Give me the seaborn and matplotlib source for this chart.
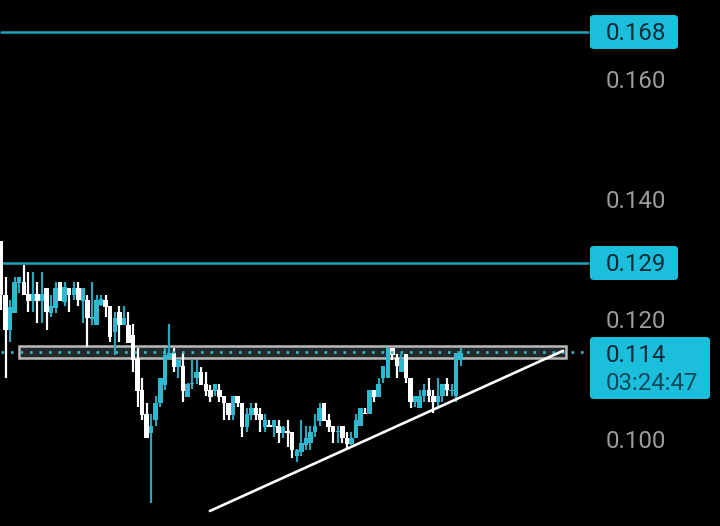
"""Candlestick screenshot recreated with seaborn: dark theme, price levels, trend line."""

import matplotlib
matplotlib.use("Agg")
import matplotlib.pyplot as plt
from matplotlib.patches import FancyBboxPatch, Rectangle
import pandas as pd
import seaborn as sns

opens = [
    .1330, .1240, .1182, .1210, .1260, .1262, .1242, .1230, .1242, .1230, .1252, .1210, .1218, .1262, .1228, .1252, .1240,
    .1252, .1230, .1232, .1200, .1190, .1223, .1232, .1222, .1178, .1212, .1190, .1190, .1173, .1133, .1082, .1042, .1010,
    .1032, .1060, .1090, .1133, .1143, .1120, .1122, .1070, .1092, .1102, .1112, .1092, .1082, .1080, .1082, .1072, .1060,
    .1040, .1072, .1060, .1020, .1040, .1052, .1042, .1020, .1023, .1020, .1022, .1010, .1013, .1012, .0972, .0978, .0990,
    .0993, .1012, .1030, .1060, .1032, .1022, .1012, .1022, .1002, .0992, .1002, .1022, .1043, .1042, .1082, .1070, .1102,
    .1102, .1152, .1135, .1112, .1142, .1102, .1062, .1052, .1072, .1082, .1072, .1062, .1072, .1092, .1080, .1072, .1132,
]
highs = [
    .1330, .1270, .1232, .1270, .1270, .1290, .1278, .1278, .1262, .1278, .1252, .1240, .1262, .1262, .1262, .1252, .1262,
    .1262, .1252, .1240, .1262, .1240, .1240, .1240, .1222, .1212, .1222, .1222, .1212, .1192, .1152, .1102, .1060, .1042,
    .1072, .1102, .1152, .1192, .1152, .1133, .1143, .1093, .1132, .1132, .1120, .1112, .1090, .1092, .1092, .1072, .1060,
    .1072, .1072, .1060, .1052, .1060, .1060, .1052, .1042, .1032, .1032, .1032, .1022, .1032, .1012, .0983, .1032, .1022,
    .1022, .1042, .1060, .1060, .1042, .1022, .1022, .1022, .1012, .1012, .1042, .1052, .1052, .1082, .1082, .1102, .1122,
    .1152, .1152, .1142, .1142, .1142, .1102, .1072, .1082, .1092, .1102, .1082, .1102, .1092, .1102, .1092, .1143, .1152,
]
lows = [
    .1215, .1102, .1162, .1210, .1243, .1240, .1212, .1212, .1193, .1193, .1182, .1203, .1210, .1230, .1222, .1212, .1232,
    .1222, .1193, .1153, .1190, .1190, .1222, .1203, .1162, .1140, .1162, .1190, .1160, .1112, .1053, .1032, .1002, .0893,
    .1022, .1053, .1082, .1133, .1112, .1102, .1062, .1070, .1083, .1092, .1090, .1072, .1062, .1072, .1062, .1032, .1032,
    .1032, .1053, .1003, .1012, .1032, .1032, .1012, .1012, .1020, .1003, .0993, .1002, .0987, .0968, .0962, .0972, .0982,
    .0982, .1003, .1022, .1030, .1012, .0993, .0993, .0993, .0983, .0990, .1002, .1022, .1042, .1042, .1062, .1070, .1093,
    .1102, .1132, .1102, .1112, .1093, .1052, .1053, .1052, .1062, .1062, .1043, .1053, .1062, .1072, .1072, .1062, .1122,
]
closes = [
    .1240, .1182, .1220, .1262, .1270, .1240, .1230, .1242, .1230, .1242, .1212, .1222, .1252, .1230, .1253, .1240, .1252,
    .1232, .1252, .1202, .1203, .1232, .1233, .1220, .1170, .1202, .1190, .1202, .1160, .1132, .1080, .1040, .1002, .1022,
    .1060, .1102, .1140, .1143, .1120, .1132, .1080, .1092, .1093, .1112, .1090, .1080, .1070, .1092, .1070, .1060, .1040,
    .1072, .1060, .1020, .1042, .1052, .1040, .1032, .1032, .1020, .1032, .1010, .1020, .1010, .0982, .0982, .0993, .1002,
    .1012, .1022, .1052, .1030, .1020, .1012, .1013, .1002, .0992, .1002, .1032, .1052, .1042, .1082, .1070, .1092, .1122,
    .1152, .1140, .1122, .1132, .1102, .1062, .1072, .1072, .1082, .1072, .1062, .1072, .1092, .1082, .1082, .1143, .1143,
]

level_prices = [0.1678, 0.1293]
level_labels = ["0.168", "0.129"]
tick_prices = [0.160, 0.140, 0.120, 0.100]
last_price = 0.1145
last_label = "0.114"
countdown = "03:24:47"
trend_x = [45.9, 123.5]
trend_y = [0.0880, 0.1147]
zone_x = [3.96, 124.2]
zone_y = [0.1135, 0.1155]

TEAL = "#1cbfdb"
CANDLE_TEAL = "#2fb9d0"
WICK_TEAL = "#2ba3b8"
LEVEL_TEAL = "#1ba5ba"
INK = "#0a2c3a"

sns.set_theme(style="dark", rc={"axes.facecolor": "black", "figure.facecolor": "black"})
plt.rcParams["font.family"] = ["Roboto", "DejaVu Sans"]

df = pd.DataFrame({"open": opens, "high": highs, "low": lows, "close": closes})
df["idx"] = range(len(df))
df["up"] = df["close"] >= df["open"]
df["body_low"] = df[["open", "close"]].min(axis=1)
df["body_high"] = df[["open", "close"]].max(axis=1)

fig = plt.figure(figsize=(7.2, 5.26), dpi=100)
ax = fig.add_axes([0, 0, 1, 1])
ax.set_xlim(-0.22, 158.0)
ax.set_ylim(0.0855, 0.17317)

# zone goes under the candles, levels too
ax.add_patch(Rectangle((zone_x[0], zone_y[0]), zone_x[1] - zone_x[0], zone_y[1] - zone_y[0],
                       facecolor="#23292b", edgecolor="#b9b9b9", linewidth=1.8, zorder=1))
for price in level_prices:
    sns.lineplot(x=[0, 129], y=[price, price], color=LEVEL_TEAL, linewidth=1.8, ax=ax, zorder=2)

# wicks first, then bodies
for up, wick_color, body_color in [(True, WICK_TEAL, CANDLE_TEAL), (False, "white", "white")]:
    part = df[df["up"] == up]
    ax.vlines(part["idx"], part["low"], part["high"], color=wick_color, linewidth=1.6, zorder=3)
    ax.bar(part["idx"], part["body_high"] - part["body_low"], bottom=part["body_low"],
           width=0.98, color=body_color, linewidth=0, zorder=4)

sns.lineplot(x=[0, 128.3], y=[last_price, last_price], color="#39b7c9", linewidth=1.9,
             linestyle=(0, (1, 2.6)), ax=ax, zorder=5)
sns.lineplot(x=trend_x, y=trend_y, color="white", linewidth=1.9, ax=ax, zorder=6)

# price scale sits inside the plot, like the app draws it
ax.yaxis.tick_right()
ax.set_yticks(tick_prices)
ax.set_yticklabels([f"{t:.3f}" for t in tick_prices])
ax.tick_params(axis="y", length=0, pad=-82, labelsize=17.3, labelcolor="#9c9c9c")
for label in ax.get_yticklabels():
    label.set_horizontalalignment("left")
    label.set_verticalalignment("center_baseline")
ax.set_xticks([])
ax.set_xlabel("")
ax.set_ylabel("")
for spine in ax.spines.values():
    spine.set_visible(False)


def px_box(x0, y0, x1, y1):
    # box in screen pixels of the 720x526 picture
    ax.add_patch(FancyBboxPatch((x0 / 720, 1 - y1 / 526), (x1 - x0) / 720, (y1 - y0) / 526,
                                boxstyle="round,pad=0,rounding_size=0.006", transform=ax.transAxes,
                                facecolor=TEAL, edgecolor="none", zorder=7, clip_on=False))


def px_text(x, y, text, color=INK):
    ax.text(x / 720, 1 - y / 526, text, transform=ax.transAxes, color=color, fontsize=17.3,
            ha="left", va="center", zorder=8)


px_box(590, 15, 678, 49)
px_text(606, 33.5, level_labels[0])
px_box(590, 246, 678, 280)
px_text(606, 264.5, level_labels[1])
px_box(590, 337, 710, 399)
px_text(606, 356, last_label)
px_text(606, 384, countdown, color="#0b4a5c")

fig.savefig("out.png", dpi=100, facecolor="black")
